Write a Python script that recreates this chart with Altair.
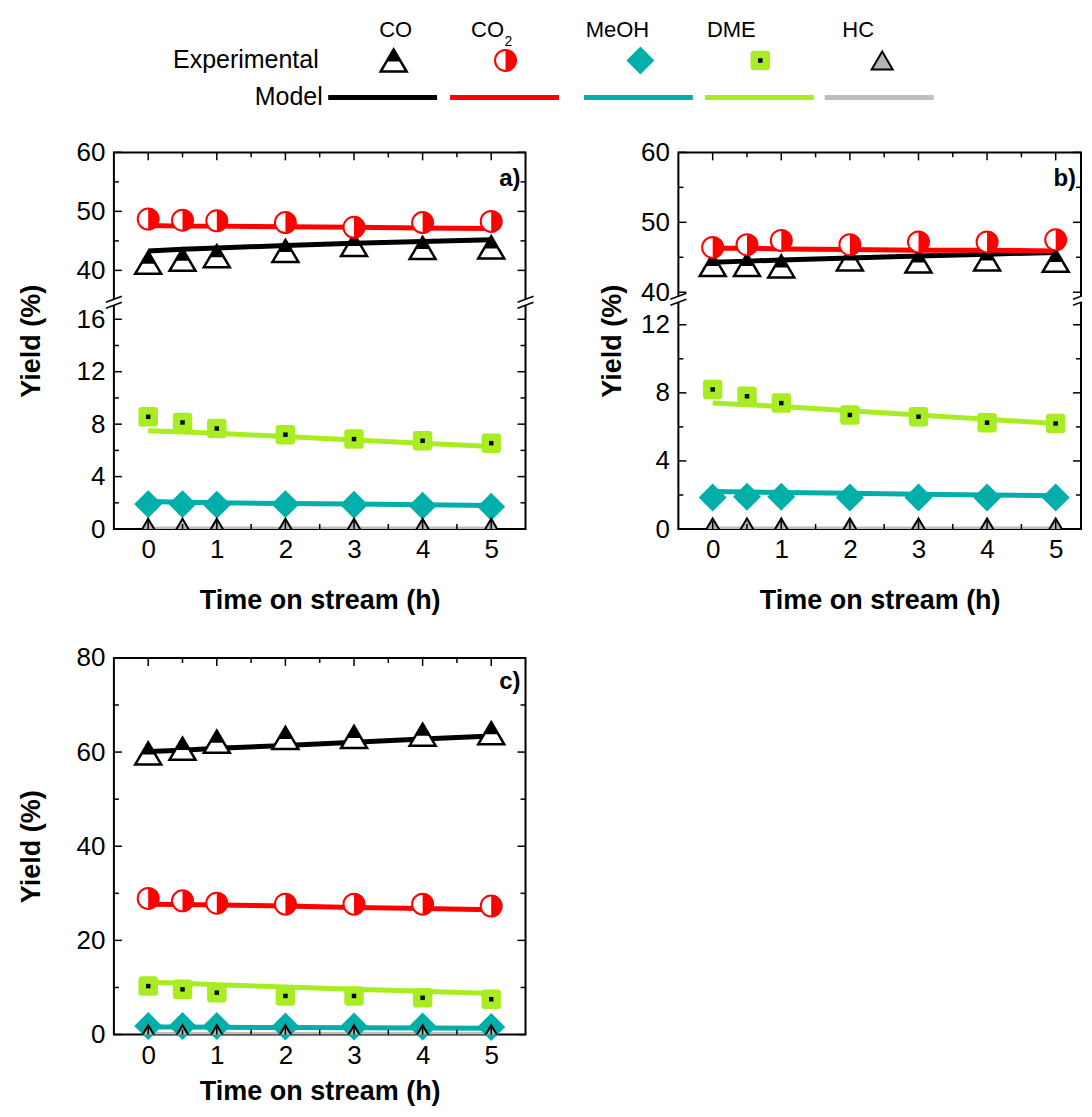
import altair as alt
import pandas as pd

# ---------------- data ----------------
time = [0, 0.5, 1, 2, 3, 4, 5]
series_names = ["CO", "CO2", "MeOH", "DME", "HC"]
series_colors = ["#000000", "#FF0000", "#00AFAA", "#A8EC22", "#BEBEBE"]

# panel a)
a_co_exp = [41.3, 41.8, 42.4, 43.3, 44.3, 43.8, 43.9]
a_co2_exp = [48.7, 48.5, 48.4, 48.1, 47.3, 48.1, 48.3]
a_meoh_exp = [1.9, 1.9, 1.85, 1.9, 1.85, 1.78, 1.7]
a_dme_exp = [8.56, 8.13, 7.67, 7.2, 6.86, 6.73, 6.55]
a_hc_exp = [0.1, 0.1, 0.1, 0.1, 0.1, 0.1, 0.1]
a_co_mod = [43.3, 43.6, 43.8, 44.2, 44.6, 44.9, 45.2]
a_co2_mod = [47.6, 47.5, 47.5, 47.4, 47.3, 47.2, 47.1]
a_meoh_mod = [2.1, 2.05, 2.0, 1.95, 1.9, 1.85, 1.8]
a_dme_mod = [7.5, 7.4, 7.3, 7.05, 6.8, 6.55, 6.3]
a_hc_mod = [0, 0, 0, 0, 0, 0, 0]

# panel b)
b_co_exp = [43.9, 43.9, 43.7, 44.7, 44.4, 44.7, 44.5]
b_co2_exp = [46.4, 46.8, 47.4, 46.8, 47.2, 47.2, 47.5]
b_meoh_exp = [1.85, 1.9, 1.9, 1.85, 1.85, 1.85, 1.85]
b_dme_exp = [8.2, 7.8, 7.4, 6.7, 6.6, 6.25, 6.2]
b_hc_exp = [0.1, 0.1, 0.1, 0.1, 0.1, 0.1, 0.1]
b_co_mod = [44.3, 44.45, 44.6, 44.9, 45.2, 45.45, 45.7]
b_co2_mod = [46.3, 46.3, 46.2, 46.1, 46.0, 46.0, 45.9]
b_meoh_mod = [2.2, 2.18, 2.15, 2.1, 2.05, 2.0, 1.95]
b_dme_mod = [7.4, 7.3, 7.2, 6.95, 6.7, 6.45, 6.2]
b_hc_mod = [0, 0, 0, 0, 0, 0, 0]

# panel c)
c_co_exp = [59.7, 60.7, 62.2, 63.0, 63.2, 63.7, 64.0]
c_co2_exp = [28.9, 28.4, 27.9, 27.7, 27.7, 27.7, 27.3]
c_meoh_exp = [1.8, 1.8, 1.8, 1.7, 1.7, 1.7, 1.6]
c_dme_exp = [10.3, 9.6, 8.9, 8.2, 8.2, 7.8, 7.5]
c_hc_exp = [0.1, 0.1, 0.1, 0.1, 0.1, 0.1, 0.1]
c_co_mod = [60.1, 60.4, 60.8, 61.4, 62.1, 62.8, 63.4]
c_co2_mod = [27.7, 27.6, 27.5, 27.3, 27.0, 26.8, 26.5]
c_meoh_mod = [1.6, 1.6, 1.55, 1.5, 1.45, 1.4, 1.35]
c_dme_mod = [11.1, 10.9, 10.6, 10.1, 9.6, 9.2, 8.7]
c_hc_mod = [0, 0, 0, 0, 0, 0, 0]

# ticks / labels
x_major = [0, 1, 2, 3, 4, 5]
x_minor = [0.5, 1.5, 2.5, 3.5, 4.5]
a_y_major = [0, 4, 8, 12, 16, 40, 50, 60]
a_y_minor = [2, 6, 10, 14, 45, 55]
b_y_major = [0, 4, 8, 12, 40, 50, 60]
b_y_minor = [2, 6, 10, 45, 55]
c_y_major = [0, 20, 40, 60, 80]
c_y_minor = [10, 30, 50, 70]

# ---------------- styling ----------------
FONT = "Liberation Sans"
W, H = 412, 377
PX_PER_H = W / 6.0

TRI = "M0,-0.85L1,0.85L-1,0.85Z"
TRI_TOP = "M0,-0.85L0.55,0.085L-0.55,0.085Z"
CIRC = "M-1,0A1,1,0,1,1,1,0A1,1,0,1,1,-1,0Z"
HALF_R = "M0,-1A1,1,0,0,1,0,1Z"
DIAM = "M0,-1L1,0L0,1L-1,0Z"
RSQ = ("M-0.7,-1L0.7,-1A0.3,0.3,0,0,1,1,-0.7L1,0.7A0.3,0.3,0,0,1,0.7,1"
       "L-0.7,1A0.3,0.3,0,0,1,-1,0.7L-1,-0.7A0.3,0.3,0,0,1,-0.7,-1Z")
BAR = "M-1,-0.045L1,-0.045L1,0.045L-1,0.045Z"


def long_df(lists):
    rows = []
    for i, name in enumerate(series_names):
        for t, v in zip(time, lists[i]):
            rows.append({"t": t, "v": v, "series": name, "i": i})
    return pd.DataFrame(rows)


def marker_layers(data, enc, clip_hc=False):
    def f(name):
        return alt.Chart(data).transform_filter(alt.datum.series == name)
    return [
        f("CO").mark_point(shape=TRI, size=676, filled=True, fill="white", stroke="black",
                           strokeWidth=2.5, opacity=1).encode(**enc),
        f("CO").mark_point(shape=TRI_TOP, size=676, filled=True, fill="black",
                           strokeWidth=0, opacity=1).encode(**enc),
        f("CO2").mark_point(shape=CIRC, size=441, filled=True, fill="white", stroke="#FF0000",
                            strokeWidth=2, opacity=1).encode(**enc),
        f("CO2").mark_point(shape=HALF_R, size=441, filled=True, fill="#FF0000",
                            strokeWidth=0, opacity=1).encode(**enc),
        f("MeOH").mark_point(shape=DIAM, size=784, filled=True, fill="#00AFAA",
                             strokeWidth=0, opacity=1).encode(**enc),
        f("DME").mark_point(shape=RSQ, size=380, filled=True, fill="#A8EC22",
                            strokeWidth=0, opacity=1).encode(**enc),
        f("DME").mark_point(shape="square", size=20, filled=True, fill="black",
                            strokeWidth=0, opacity=1).encode(**enc),
        f("HC").mark_point(shape=TRI, size=441, filled=True, fill="#B4B4B4", stroke="black",
                           strokeWidth=2, opacity=1, clip=clip_hc).encode(**enc),
    ]


def panel(exp_lists, mod_lists, y_domain, y_range, y_major, y_minor, tag, tag_y,
          title_pad, x_title_pad, brk=None, brk_right=8, width=W):
    exp = long_df(exp_lists)
    mod = long_df(mod_lists)
    x_max = -0.5 + width / PX_PER_H
    x_axis = alt.Axis(values=x_major, ticks=False, domain=False, grid=False,
                      labelFontSize=26, labelPadding=8, labelFlush=False,
                      labelOverlap=False, labelColor="black", format="d",
                      title="Time on stream (h)", titleFontSize=27,
                      titleFontWeight="bold", titlePadding=x_title_pad, titleColor="black")
    y_axis = alt.Axis(values=y_major, ticks=False, domain=False, grid=False,
                      labelFontSize=26, labelPadding=9, labelOverlap=False,
                      labelColor="black", format="d",
                      title="Yield (%)", titleFontSize=27, titleFontWeight="bold",
                      titlePadding=title_pad, titleColor="black")
    X = alt.X("t:Q", scale=alt.Scale(domain=[-0.5, x_max], nice=False, zero=False),
              axis=x_axis)
    Y = alt.Y("v:Q", scale=alt.Scale(domain=y_domain, range=y_range, nice=False, zero=False),
              axis=y_axis)
    color = alt.Color("series:N", scale=alt.Scale(domain=series_names, range=series_colors),
                      legend=None)

    layers = []
    layers.append(alt.Chart(mod).mark_line(strokeWidth=5, clip=True).encode(
        x=X, y=Y, color=color, detail="series:N", order="t:Q"))
    layers += marker_layers(exp, dict(x=X, y=Y), clip_hc=True)

    ymaj = pd.DataFrame({"v": y_major})
    ymin = pd.DataFrame({"v": y_minor})
    xmaj = pd.DataFrame({"t": x_major})
    xmin = pd.DataFrame({"t": x_minor})
    for d, ln in ((ymaj, 8), (ymin, 5)):
        layers.append(alt.Chart(d).mark_rule(color="black", strokeWidth=1.5).encode(
            y=Y, x=alt.value(0), x2=alt.value(ln)))
        layers.append(alt.Chart(d).mark_rule(color="black", strokeWidth=1.5).encode(
            y=Y, x=alt.value(width), x2=alt.value(width - ln)))
    for d, ln in ((xmaj, 8), (xmin, 5)):
        layers.append(alt.Chart(d).mark_rule(color="black", strokeWidth=1.5).encode(
            x=X, y=alt.value(H), y2=alt.value(H - ln)))
        layers.append(alt.Chart(d).mark_rule(color="black", strokeWidth=1.5).encode(
            x=X, y=alt.value(0), y2=alt.value(ln)))

    one = pd.DataFrame({"k": [0]})
    if brk is not None:
        for x0, ext in ((0, 8), (width, brk_right)):
            layers.append(alt.Chart(one).mark_rect(color="white").encode(
                x=alt.value(x0 - 3), x2=alt.value(x0 + min(3, ext)),
                y=alt.value(brk - 3), y2=alt.value(brk + 3)))
            layers.append(alt.Chart(one).mark_rule(color="black", strokeWidth=1.5).encode(
                x=alt.value(x0 - 8), x2=alt.value(x0 + ext),
                y=alt.value(brk), y2=alt.value(brk - 3 - 3 * ext / 8)))
            layers.append(alt.Chart(one).mark_rule(color="black", strokeWidth=1.5).encode(
                x=alt.value(x0 - 8), x2=alt.value(x0 + ext),
                y=alt.value(brk + 6), y2=alt.value(brk + 3 - 3 * ext / 8)))

    tagdf = pd.DataFrame({"label": [tag]})
    layers.append(alt.Chart(tagdf).mark_text(font=FONT, fontSize=24, fontWeight="bold",
                                             align="right", baseline="middle",
                                             color="black").encode(
        text="label:N", x=alt.value(width - 5), y=alt.value(tag_y)))

    return alt.layer(*layers).properties(
        width=width, height=H, view=alt.ViewBackground(stroke="black", strokeWidth=2))


pa = panel([a_co_exp, a_co2_exp, a_meoh_exp, a_dme_exp, a_hc_exp],
           [a_co_mod, a_co2_mod, a_meoh_mod, a_dme_mod, a_hc_mod],
           [0, 17.3, 34.6, 60], [H, 150, 150, 0], a_y_major, a_y_minor,
           "a)", 27, 31, 25, brk=150)
pb = panel([b_co_exp, b_co2_exp, b_meoh_exp, b_dme_exp, b_hc_exp],
           [b_co_mod, b_co2_mod, b_meoh_mod, b_dme_mod, b_hc_mod],
           [0, 13.5, 39.0, 60], [H, 147, 147, 0], b_y_major, b_y_minor,
           "b)", 27, 14, 25, brk=147, brk_right=1, width=403)
pc = panel([c_co_exp, c_co2_exp, c_meoh_exp, c_dme_exp, c_hc_exp],
           [c_co_mod, c_co2_mod, c_meoh_mod, c_dme_mod, c_hc_mod],
           [0, 80], [H, 0], c_y_major, c_y_minor,
           "c)", 24, 31, 10)

# ---------------- legend ----------------
leg_marker_x = [280, 392, 527, 647, 769]
leg_label_x = [282, 374, 504, 618, 745]
leg_line_x = [269, 391, 525, 646, 766]
leg_labels = ["CO", "CO", "MeOH", "DME", "HC"]

leg = pd.DataFrame({"series": series_names, "i": list(range(5)), "label": leg_labels})
idx_dom = [0, 1, 2, 3, 4]
Xm = alt.X("i:Q", scale=alt.Scale(domain=idx_dom, range=leg_marker_x, nice=False, zero=False),
           axis=None)
Xl = alt.X("i:Q", scale=alt.Scale(domain=idx_dom, range=leg_label_x, nice=False, zero=False),
           axis=None)
Xn = alt.X("i:Q", scale=alt.Scale(domain=idx_dom, range=leg_line_x, nice=False, zero=False),
           axis=None)

LF = 25
Y_LAB, Y_EXP, Y_MOD = 21, 51, 88
leg_layers = []
leg_layers.append(alt.Chart(leg).mark_text(font=FONT, fontSize=22, baseline="middle",
                                           align="center", color="black").encode(
    x=Xl, y=alt.value(Y_LAB), text="label:N"))
leg_layers.append(alt.Chart(pd.DataFrame({"s": ["2"]})).mark_text(
    font=FONT, fontSize=14, baseline="middle", align="left", color="black").encode(
    x=alt.value(391), y=alt.value(Y_LAB + 12), text="s:N"))
leg_layers.append(alt.Chart(pd.DataFrame({"w": ["Experimental"]})).mark_text(
    font=FONT, fontSize=LF, baseline="middle", align="right", color="black").encode(
    x=alt.value(205), y=alt.value(Y_EXP), text="w:N"))
leg_layers.append(alt.Chart(pd.DataFrame({"w": ["Model"]})).mark_text(
    font=FONT, fontSize=LF, baseline="middle", align="right", color="black").encode(
    x=alt.value(209), y=alt.value(Y_MOD), text="w:N"))
leg_layers += marker_layers(leg, dict(x=Xm, y=alt.value(Y_EXP)))
leg_layers.append(alt.Chart(leg).mark_point(shape=BAR, size=11881, filled=True,
                                            strokeWidth=0, opacity=1).encode(
    x=Xn, y=alt.value(Y_MOD),
    color=alt.Color("series:N", scale=alt.Scale(domain=series_names, range=series_colors),
                    legend=None)))
leg_layers.append(alt.Chart(pd.DataFrame({"k": [0]})).mark_rule(
    color="white", strokeOpacity=0).encode(
    x=alt.value(-105), x2=alt.value(-104), y=alt.value(0), y2=alt.value(1)))

legend = alt.layer(*leg_layers).resolve_scale(x="independent").properties(
    width=880, height=103, view=alt.ViewBackground(stroke="transparent"))

grid = alt.concat(pa, pb, pc, columns=2, spacing={"row": 129, "column": 153},
                  bounds="flush")
chart = alt.vconcat(legend, grid, spacing=40, bounds="flush").properties(
    padding={"left": 0, "top": 0, "right": 0, "bottom": 0}
).configure_axis(labelFont=FONT, titleFont=FONT).configure_text(font=FONT)

chart.save("out.html", embed_options={"renderer": "svg", "actions": False})
